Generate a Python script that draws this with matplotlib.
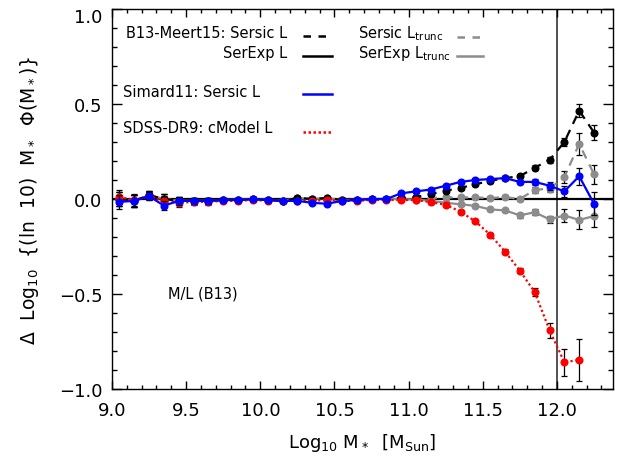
import numpy as np
import matplotlib
matplotlib.use("Agg")
import matplotlib.pyplot as plt
import matplotlib.transforms as mtransforms
from matplotlib.ticker import MultipleLocator

plt.rcParams['font.family'] = ['DejaVu Sans']
plt.rcParams['mathtext.fontset'] = 'dejavusans'

# ---------------- data ----------------
logm = [9.05, 9.15, 9.25, 9.35, 9.45, 9.55, 9.65, 9.75, 9.85, 9.95,
        10.05, 10.15, 10.25, 10.35, 10.45, 10.55, 10.65, 10.75, 10.85, 10.95,
        11.05, 11.15, 11.25, 11.35, 11.45, 11.55, 11.65, 11.75, 11.85, 11.95,
        12.05, 12.15, 12.25]

sersic_L = [0.00, -0.01, 0.02, 0.00, -0.01, -0.01, -0.01, -0.005, -0.005, 0.0,
            -0.005, -0.01, 0.005, 0.0, 0.005, -0.005, -0.005, 0.0, 0.0, 0.005,
            0.01, 0.026, 0.044, 0.058, 0.078, 0.095, 0.11, 0.12, 0.165, 0.205,
            0.30, 0.465, 0.35]
sersic_L_err = [0.035, 0.03, 0.02, 0.025, 0.02, 0.015, 0.015, 0.012, 0.012, 0.01,
                0.01, 0.008, 0.008, 0.008, 0.008, 0.008, 0.008, 0.008, 0.008, 0.008,
                0.008, 0.008, 0.008, 0.008, 0.01, 0.01, 0.01, 0.012, 0.012, 0.015,
                0.02, 0.035, 0.04]

sersic_Lt = [0.00, -0.01, 0.02, 0.00, -0.01, -0.01, -0.01, -0.005, -0.005, 0.0,
             -0.005, -0.01, 0.005, 0.0, 0.005, -0.005, -0.005, 0.0, 0.0, 0.005,
             0.005, 0.005, 0.008, 0.008, 0.008, 0.005, 0.01, 0.0, 0.048, 0.055,
             0.115, 0.29, 0.13]
sersic_Lt_err = [0.035, 0.03, 0.02, 0.025, 0.02, 0.015, 0.015, 0.012, 0.012, 0.01,
                 0.01, 0.008, 0.008, 0.008, 0.008, 0.008, 0.008, 0.008, 0.008, 0.008,
                 0.008, 0.008, 0.008, 0.008, 0.008, 0.008, 0.01, 0.01, 0.015, 0.02,
                 0.03, 0.06, 0.05]

serexp_Lt = [0.00, -0.01, 0.02, 0.00, -0.01, -0.01, -0.01, -0.005, -0.005, 0.0,
             -0.005, -0.01, 0.005, 0.0, 0.005, -0.005, -0.005, 0.0, 0.0, 0.0,
             -0.003, -0.01, -0.02, -0.028, -0.036, -0.055, -0.06, -0.086, -0.07, -0.107,
             -0.087, -0.11, -0.09]
serexp_Lt_err = [0.035, 0.03, 0.02, 0.025, 0.02, 0.015, 0.015, 0.012, 0.012, 0.01,
                 0.01, 0.008, 0.008, 0.008, 0.008, 0.008, 0.008, 0.008, 0.008, 0.008,
                 0.008, 0.008, 0.008, 0.008, 0.008, 0.008, 0.01, 0.012, 0.015, 0.02,
                 0.035, 0.05, 0.055]

simard = [-0.015, -0.01, 0.015, -0.035, -0.01, -0.01, -0.01, -0.005, -0.005, 0.0,
          -0.005, -0.01, -0.01, -0.02, -0.025, -0.01, -0.005, 0.0, 0.0, 0.03,
          0.04, 0.05, 0.07, 0.09, 0.10, 0.105, 0.11, 0.09, 0.09, 0.07,
          0.04, 0.12, -0.025]
simard_err = [0.035, 0.03, 0.02, 0.025, 0.02, 0.015, 0.015, 0.012, 0.012, 0.01,
              0.01, 0.008, 0.008, 0.008, 0.008, 0.008, 0.008, 0.008, 0.008, 0.008,
              0.008, 0.008, 0.008, 0.008, 0.008, 0.008, 0.01, 0.012, 0.015, 0.02,
              0.03, 0.045, 0.06]

logm_cm = logm[:32]
cmodel = [0.01, -0.005, 0.015, -0.01, -0.02, -0.015, -0.015, -0.01, -0.01, -0.005,
          -0.01, -0.01, -0.01, -0.01, -0.005, -0.01, -0.01, -0.005, -0.005, -0.005,
          -0.005, -0.017, -0.03, -0.067, -0.118, -0.188, -0.277, -0.377, -0.49, -0.69,
          -0.86, -0.846]
cmodel_err = [0.035, 0.03, 0.02, 0.025, 0.02, 0.015, 0.015, 0.012, 0.012, 0.01,
              0.01, 0.008, 0.008, 0.008, 0.008, 0.008, 0.008, 0.008, 0.008, 0.008,
              0.008, 0.008, 0.008, 0.008, 0.008, 0.01, 0.012, 0.015, 0.02, 0.04,
              0.07, 0.11]

xticks = [9.0, 9.5, 10.0, 10.5, 11.0, 11.5, 12.0]
yticks = [-1.0, -0.5, 0.0, 0.5, 1.0]

# ---------------- figure ----------------
fig = plt.figure(figsize=(6.18, 4.60), dpi=100)
ax = fig.add_axes([112/618, 70/460, 501/618, 380/460])

GRAY = '#8c8c8c'
ms = 4.8
lw = 1.6

def series(x, y, e, color, ls, mcolor, z):
    ax.errorbar(x, y, yerr=e, fmt='none', ecolor='black', elinewidth=0.9,
                capsize=2.2, capthick=0.9, zorder=z)
    ax.plot(x, y, color=color, ls=ls, lw=lw, marker='o', ms=ms,
            mfc=mcolor, mec=mcolor, zorder=z + 0.5)

ax.axhline(0.0, color='black', lw=1.6, zorder=2)
ax.axvline(12.0, color='#444444', lw=1.3, zorder=1)

series(logm, serexp_Lt, serexp_Lt_err, GRAY, '-', GRAY, 3)
series(logm, sersic_Lt, sersic_Lt_err, GRAY, (0, (4, 3)), GRAY, 4)
series(logm, sersic_L, sersic_L_err, 'black', (0, (4, 3)), 'black', 5)
series(logm_cm, cmodel, cmodel_err, 'red', (0, (1, 1.2)), 'red', 6)
series(logm, simard, simard_err, 'blue', '-', 'blue', 7)

ax.set_xlim(9.0, 12.378)
ax.set_ylim(-1.0, 1.0)
ax.set_xticks(xticks)
ax.set_yticks(yticks)
ax.xaxis.set_minor_locator(MultipleLocator(0.1))
ax.yaxis.set_minor_locator(MultipleLocator(0.1))
ax.tick_params(which='both', direction='in', top=True, right=True, width=1.0)
ax.tick_params(axis='x', which='major', length=5.5, labelsize=13, pad=9)
ax.tick_params(axis='x', which='minor', length=3)
ax.tick_params(axis='y', which='major', length=7, labelsize=13, pad=7)
ax.tick_params(axis='y', which='minor', length=3.5)
for sp in ax.spines.values():
    sp.set_linewidth(1.0)

# top y label sits a little lower in the original
fig.canvas.draw()
top_lab = ax.get_yticklabels()[-1]
top_lab.set_transform(top_lab.get_transform() +
                      mtransforms.ScaledTranslation(0, -6/100, fig.dpi_scale_trans))

ax.set_xlabel(r'Log$_{10}$ M$_*$  [M$_{\mathrm{Sun}}$]', fontsize=13, labelpad=8)
ax.set_ylabel(r'$\Delta$  Log$_{10}$  {(ln  10)  M$_*$  $\Phi$(M$_*$)}', fontsize=13.5,
              labelpad=13)

# ---------------- legend (manual, as in the original) ----------------
tr = ax.transAxes
fs = 10.5
ax.text(0.349, 0.9255, 'B13-Meert15: Sersic L', transform=tr, fontsize=fs,
        ha='right', va='baseline')
ax.text(0.349, 0.8729, 'SerExp L', transform=tr, fontsize=fs, ha='right', va='baseline')
ax.text(0.021, 0.7718, 'Simard11: Sersic L', transform=tr, fontsize=fs, va='baseline')
ax.text(0.021, 0.6754, 'SDSS-DR9: cModel L', transform=tr, fontsize=fs, va='baseline')
ax.text(0.491, 0.9255, r'Sersic L$_{\mathrm{trunc}}$', transform=tr, fontsize=fs, va='baseline')
ax.text(0.491, 0.8729, r'SerExp L$_{\mathrm{trunc}}$', transform=tr, fontsize=fs, va='baseline')
ax.text(0.112, 0.242, 'M/L (B13)', transform=tr, fontsize=fs, va='baseline')

ax.plot([0.381, 0.439], [0.9297, 0.9297], transform=tr, color='black', lw=1.8, ls=(0, (3, 3)))
ax.plot([0.381, 0.439], [0.8771, 0.8771], transform=tr, color='black', lw=1.8, ls='-')
ax.plot([0.381, 0.439], [0.7763, 0.7763], transform=tr, color='blue', lw=1.8, ls='-')
ax.plot([0.381, 0.439], [0.6771, 0.6771], transform=tr, color='red', lw=1.8, ls=(0, (1, 1)))
ax.plot([0.689, 0.741], [0.927, 0.927], transform=tr, color=GRAY, lw=1.8, ls=(0, (3, 3)))
ax.plot([0.689, 0.741], [0.8771, 0.8771], transform=tr, color=GRAY, lw=1.8, ls='-')

fig.savefig('out.png', dpi=100)
